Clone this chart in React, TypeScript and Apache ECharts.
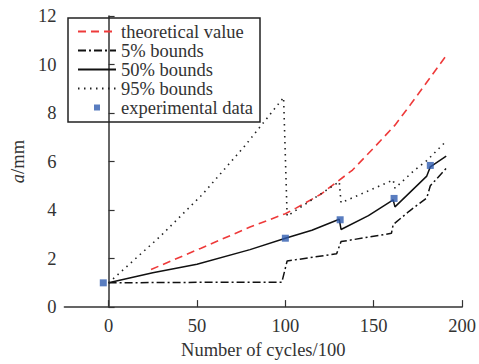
import React, { useEffect, useRef } from "react";
import * as echarts from "echarts";

const xTicks = [0, 50, 100, 150, 200];

const theoreticalX = [24, 52, 80, 100, 106, 120, 138, 151, 162, 171, 191];
const theoreticalY = [1.55, 2.42, 3.3, 3.85, 4.08, 4.65, 5.65, 6.64, 7.5, 8.37, 10.37];

const bound5X = [0, 50, 98, 101, 129, 131.5, 160, 161, 170, 180, 182, 191];
const bound5Y = [1.0, 1.02, 1.02, 1.9, 2.2, 2.7, 3.04, 3.4, 3.95, 4.5, 5.0, 5.72];

const bound50X = [0, 25, 50, 80, 100, 115, 130.5, 131.5, 147, 161, 162, 180, 182, 191];
const bound50Y = [1.0, 1.42, 1.77, 2.37, 2.84, 3.17, 3.62, 3.2, 3.77, 4.42, 4.13, 5.4, 5.78, 6.22];

const bound95X = [0, 29, 53, 77, 99, 101, 130.5, 131.5, 161, 162, 173, 180, 191];
const bound95Y = [1.0, 2.9, 4.64, 6.64, 8.64, 3.75, 5.17, 4.3, 5.24, 4.9, 5.64, 6.04, 6.84];

const expX = [-3, 100, 131, 161.5, 182];
const expY = [1.0, 2.84, 3.6, 4.48, 5.84];

const names = ["theoretical value", "5% bounds", "50% bounds", "95% bounds", "experimental data"];

const zip = (xs: number[], ys: number[]) => xs.map((x, i) => [x, ys[i]]);

const FONT = "Liberation Serif, Times New Roman, serif";
const TEXT = "#333";
const FS = 18.5;
const HIDE = { color: "rgba(0,0,0,0)", borderColor: "rgba(0,0,0,0)", borderWidth: 0 };

export default function App() {
  const ref = useRef<HTMLDivElement>(null);
  useEffect(() => {
    if (!ref.current) return;
    const chart = echarts.init(ref.current, null, { renderer: "svg" });
    chart.setOption({
      animation: false,
      textStyle: { fontFamily: FONT },
      grid: { left: 60, right: 14, top: 16, bottom: 48, containLabel: false },
      legend: {
        orient: "vertical",
        left: 68,
        top: 18,
        padding: [4, 7, 5, 9],
        itemGap: 0,
        itemWidth: 38,
        itemHeight: 6,
        borderColor: "#222",
        borderWidth: 1.5,
        symbolKeepAspect: true,
        data: [
          { name: names[0], itemStyle: HIDE },
          { name: names[1], itemStyle: HIDE },
          { name: names[2], itemStyle: HIDE },
          { name: names[3], itemStyle: HIDE },
          { name: names[4], icon: "path://M0 0H10V10H0Z" },
        ],
        textStyle: { fontFamily: FONT, fontSize: FS, lineHeight: 18, color: TEXT },
      },
      xAxis: {
        type: "value",
        min: -25,
        max: 200,
        interval: 25,
        name: "Number of cycles/100",
        nameLocation: "middle",
        nameGap: 26,
        nameTextStyle: { fontFamily: FONT, fontSize: FS, color: TEXT },
        axisLine: { show: true, onZero: false, lineStyle: { color: "#333", width: 1.5 } },
        axisTick: { show: true, inside: true, length: 7, customValues: xTicks, lineStyle: { color: "#333", width: 1.2 } },
        axisLabel: { customValues: xTicks, fontFamily: FONT, fontSize: FS, color: TEXT, margin: 9 },
        splitLine: { show: false },
      },
      yAxis: {
        type: "value",
        min: 0,
        max: 12,
        interval: 2,
        name: "{i|a}/mm",
        nameLocation: "middle",
        nameGap: 34,
        nameRotate: 90,
        nameTextStyle: {
          fontFamily: FONT,
          fontSize: FS,
          color: TEXT,
          rich: { i: { fontStyle: "italic", fontFamily: FONT, fontSize: FS, color: TEXT } },
        },
        axisLine: { show: true, lineStyle: { color: "#333", width: 1.5 } },
        axisTick: { show: true, inside: true, length: 6, lineStyle: { color: "#333", width: 1.2 } },
        axisLabel: { fontFamily: FONT, fontSize: FS, color: TEXT, margin: 8 },
        splitLine: { show: false },
      },
      series: [
        {
          name: names[0],
          type: "line",
          data: zip(theoreticalX, theoreticalY),
          symbol: "none",
          color: "#ee3a3a",
          lineStyle: { color: "#ee3a3a", width: 1.6, type: [8, 5] },
        },
        {
          name: names[1],
          type: "line",
          data: zip(bound5X, bound5Y),
          symbol: "none",
          color: "#111",
          lineStyle: { color: "#111", width: 1.5, type: [8, 3, 2, 3] },
        },
        {
          name: names[2],
          type: "line",
          data: zip(bound50X, bound50Y),
          symbol: "none",
          color: "#111",
          lineStyle: { color: "#111", width: 1.5, type: "solid" },
        },
        {
          name: names[3],
          type: "line",
          data: zip(bound95X, bound95Y),
          symbol: "none",
          color: "#222",
          lineStyle: { color: "#222", width: 1.6, type: [1.5, 4.5] },
        },
        {
          name: names[4],
          type: "scatter",
          data: zip(expX, expY),
          symbol: "rect",
          symbolSize: 7,
          color: "#2f5cb0",
          itemStyle: { color: "#2f5cb0" },
          z: 5,
        },
      ],
    });
    return () => chart.dispose();
  }, []);
  return <div ref={ref} style={{ width: 479, height: 364, position: "absolute", left: 0, top: 0 }} />;
}
